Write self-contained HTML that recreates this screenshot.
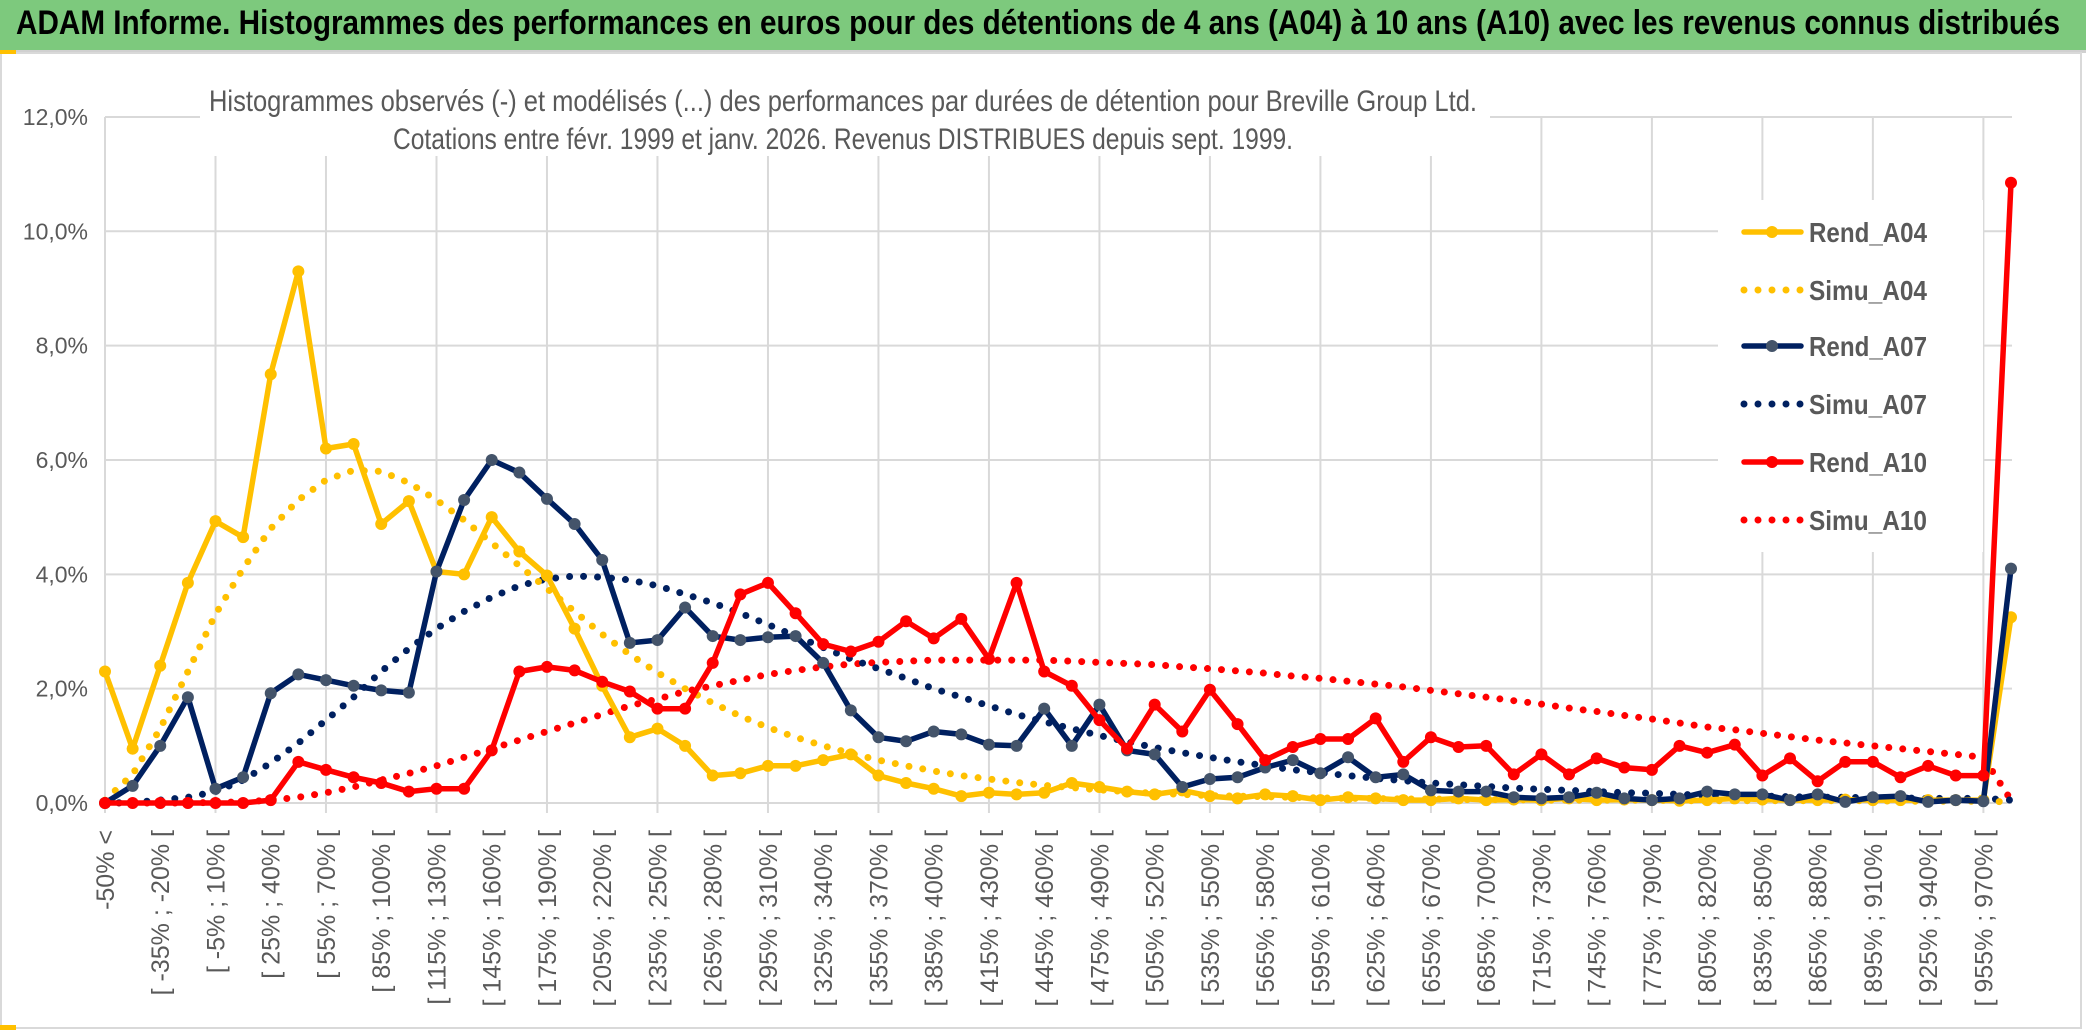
<!DOCTYPE html>
<html><head><meta charset="utf-8"><style>
html,body{margin:0;padding:0;background:#fff;}
body{width:2086px;height:1031px;overflow:hidden;position:relative;font-family:"Liberation Sans",sans-serif;}
#bar{position:absolute;left:0;top:0;width:2086px;height:50px;background:#7dc97d;border-bottom:3px solid #d0d0d0;}
#bar span{position:absolute;left:16px;top:4px;font-size:34px;font-weight:bold;color:#000;font-family:"Liberation Sans Narrow","Liberation Sans",sans-serif;white-space:nowrap;}
svg{position:absolute;left:0;top:0;}
</style></head><body>
<div id="bar"><span id="ht">ADAM Informe. Histogrammes des performances en euros pour des détentions de 4 ans (A04) à 10 ans (A10) avec les revenus connus distribués</span></div>
<svg id="chart" width="2086" height="1031"></svg>
<script>
const yTicks=[0,2,4,6,8,10,12];
const yTickLabels=["0,0%","2,0%","4,0%","6,0%","8,0%","10,0%","12,0%"];
const rendA04=[2.3,0.95,2.4,3.85,4.93,4.65,7.5,9.3,6.2,6.28,4.88,5.28,4.05,4.0,5.0,4.4,3.98,3.05,2.05,1.15,1.3,1.0,0.48,0.52,0.65,0.65,0.75,0.85,0.48,0.35,0.25,0.12,0.18,0.15,0.18,0.35,0.28,0.2,0.15,0.22,0.12,0.08,0.15,0.12,0.05,0.1,0.08,0.05,0.05,0.08,0.05,0.06,0.05,0.08,0.05,0.06,0.05,0.04,0.05,0.08,0.06,0.05,0.05,0.06,0.05,0.05,0.05,0.05,0.05,3.25];
const rendA07=[0,0.3,1.0,1.85,0.25,0.45,1.92,2.25,2.15,2.05,1.97,1.93,4.05,5.3,6.0,5.78,5.32,4.88,4.25,2.8,2.85,3.42,2.92,2.85,2.9,2.92,2.45,1.62,1.15,1.08,1.25,1.2,1.02,1.0,1.65,1.0,1.72,0.92,0.85,0.28,0.42,0.45,0.62,0.75,0.52,0.8,0.45,0.5,0.22,0.2,0.2,0.1,0.08,0.1,0.18,0.08,0.05,0.08,0.2,0.15,0.15,0.05,0.15,0.02,0.1,0.12,0.02,0.05,0.03,4.1];
const rendA10=[0,0,0,0,0,0,0.05,0.72,0.58,0.45,0.35,0.2,0.25,0.25,0.92,2.3,2.38,2.32,2.12,1.95,1.65,1.65,2.45,3.65,3.85,3.32,2.78,2.65,2.82,3.18,2.88,3.22,2.52,3.85,2.3,2.05,1.45,0.95,1.72,1.25,1.98,1.38,0.75,0.98,1.12,1.12,1.48,0.72,1.15,0.98,1.0,0.5,0.85,0.5,0.78,0.62,0.58,1.0,0.88,1.02,0.48,0.78,0.38,0.72,0.72,0.45,0.65,0.48,0.48,10.85];
const simuA04=[0.05,0.5,1.3,2.3,3.3,4.1,4.8,5.3,5.65,5.82,5.8,5.6,5.3,4.95,4.55,4.15,3.75,3.35,2.95,2.6,2.28,2.0,1.75,1.52,1.32,1.15,1.0,0.87,0.75,0.65,0.56,0.48,0.42,0.36,0.31,0.27,0.23,0.2,0.17,0.15,0.13,0.12,0.11,0.1,0.09,0.08,0.08,0.07,0.07,0.06,0.06,0.06,0.05,0.05,0.05,0.05,0.05,0.04,0.04,0.04,0.04,0.04,0.04,0.04,0.04,0.03,0.03,0.03,0.03,0.02];
const simuA07=[0,0.01,0.05,0.1,0.2,0.4,0.7,1.05,1.45,1.85,2.3,2.7,3.05,3.35,3.6,3.8,3.92,3.97,3.95,3.9,3.8,3.65,3.5,3.32,3.12,2.92,2.72,2.52,2.35,2.18,2.0,1.85,1.7,1.55,1.42,1.3,1.18,1.07,0.97,0.88,0.8,0.72,0.65,0.58,0.53,0.48,0.43,0.39,0.35,0.32,0.29,0.26,0.24,0.22,0.2,0.18,0.17,0.15,0.14,0.13,0.12,0.11,0.1,0.1,0.09,0.09,0.08,0.08,0.08,0.05];
const simuA10=[0,0,0,0,0.01,0.02,0.05,0.1,0.18,0.28,0.4,0.52,0.65,0.8,0.95,1.1,1.25,1.4,1.55,1.7,1.82,1.95,2.05,2.15,2.25,2.32,2.38,2.43,2.46,2.48,2.5,2.5,2.5,2.5,2.5,2.48,2.46,2.44,2.42,2.38,2.35,2.31,2.27,2.22,2.18,2.13,2.08,2.03,1.97,1.91,1.85,1.79,1.73,1.66,1.6,1.53,1.47,1.4,1.33,1.28,1.22,1.16,1.1,1.05,1.0,0.95,0.9,0.85,0.8,0.05];
const categories=["-50% <"];
for(let k=1;k<70;k++){categories.push("[ "+(-50+15*(k-1))+"% ; "+(-50+15*k)+"% [");}
const seriesNames=["Rend_A04","Simu_A04","Rend_A07","Simu_A07","Rend_A10","Simu_A10"];

const NS="http://www.w3.org/2000/svg";
const svg=document.getElementById('chart');
const X0=105,DX=(2011-105)/69,Y0=803,PY=57.17;
function xs(i){return X0+DX*i;}
function ys(v){return Y0-PY*v;}
function mk(tag,attrs,parent){const e=document.createElementNS(NS,tag);for(const k in attrs)e.setAttribute(k,attrs[k]);(parent||svg).appendChild(e);return e;}
const fr=mk('rect',{x:1,y:53,width:2080,height:975,fill:'#fff',stroke:'#d9d9d9','stroke-width':2});


mk('rect',{x:0,y:50,width:16,height:4,fill:'#ffc000'});
mk('rect',{x:0,y:1025,width:16,height:5,fill:'#ffc000'});
const grid=mk('g',{stroke:'#d9d9d9','stroke-width':2});


yTicks.forEach((t,k)=>{
  mk('line',{x1:X0,x2:2012,y1:ys(t),y2:ys(t)},grid);
  const tx=mk('text',{x:88,y:ys(t)+8,'text-anchor':'end','font-size':23,fill:'#595959','font-family':'"Liberation Sans Narrow","Liberation Sans",sans-serif'});
  tx.textContent=yTickLabels[k];
  
  
});
for(let i=0;i<categories.length;i+=4){mk('line',{x1:xs(i),x2:xs(i),y1:ys(12),y2:Y0+10},grid);}
categories.forEach((c,i)=>{
  if(i%2!==0)return;
  const t=mk('text',{transform:'translate('+(xs(i)+9)+',830) rotate(-90)','text-anchor':'end','font-size':25,fill:'#595959'});
  t.textContent=c;
  
  
});
mk('rect',{x:200,y:72,width:1290,height:84,fill:'#fff'});
const t1=mk('text',{x:843,y:111,'text-anchor':'middle','font-size':30,fill:'#595959','font-family':'"Liberation Sans Narrow","Liberation Sans",sans-serif',textLength:1268,lengthAdjust:'spacingAndGlyphs'});
t1.textContent="Histogrammes observés (-) et modélisés (...) des performances par durées de détention pour Breville Group Ltd.";


const t2=mk('text',{x:843,y:149,'text-anchor':'middle','font-size':30,fill:'#595959','font-family':'"Liberation Sans Narrow","Liberation Sans",sans-serif',textLength:900,lengthAdjust:'spacingAndGlyphs'});
t2.textContent="Cotations entre févr. 1999 et janv. 2026. Revenus DISTRIBUES depuis sept. 1999.";


mk('rect',{x:1718,y:200,width:265,height:352,fill:'#fff'});
function pts(arr){return arr.map((v,i)=>xs(i).toFixed(1)+','+ys(v).toFixed(1)).join(' ');}
function dotted(arr,color,name){
  const p=mk('polyline',{points:pts(arr),fill:'none',stroke:color,'stroke-width':7,'stroke-linecap':'round','stroke-dasharray':'0 14'});
  
  
}
function solid(arr,color,mcolor,name){
  const g=mk('g',{});
  
  
  mk('polyline',{points:pts(arr),fill:'none',stroke:color,'stroke-width':5.5,'stroke-linejoin':'round'},g);
  arr.forEach((v,i)=>{mk('circle',{cx:xs(i),cy:ys(v),r:6,fill:mcolor},g);});
}
dotted(simuA10,'#ff0000','simu-a10-line');
dotted(simuA07,'#002060','simu-a07-line');
dotted(simuA04,'#ffc000','simu-a04-line');
solid(rendA04,'#ffc000','#ffc000','rend-a04-line');
solid(rendA07,'#002060','#44546a','rend-a07-line');
solid(rendA10,'#ff0000','#ff0000','rend-a10-line');
const legY=[232,290,346,404,462,520];
const legC=['#ffc000','#ffc000','#002060','#002060','#ff0000','#ff0000'];
const legM=['#ffc000',null,'#44546a',null,'#ff0000',null];
seriesNames.forEach((n,k)=>{
  const g=mk('g',{});
  
  
  const y=legY[k];
  if(legM[k]){
    mk('line',{x1:1744,x2:1801,y1:y,y2:y,stroke:legC[k],'stroke-width':5.5,'stroke-linecap':'round'},g);
    mk('circle',{cx:1772,cy:y,r:6,fill:legM[k]},g);
  } else {
    mk('line',{x1:1744,x2:1801,y1:y,y2:y,stroke:legC[k],'stroke-width':7,'stroke-linecap':'round','stroke-dasharray':'0 14'},g);
  }
  const t=mk('text',{x:1809,y:y+10,'font-size':28,'font-weight':'bold',fill:'#595959',textLength:118,lengthAdjust:'spacingAndGlyphs'},g);
  t.textContent=n;
});
const ht=document.getElementById('ht');
const w=ht.getBoundingClientRect().width;
if(w>0){ht.style.transformOrigin='0 0';ht.style.transform='scaleX('+(2044/w)+')';}
</script>
</body></html>
